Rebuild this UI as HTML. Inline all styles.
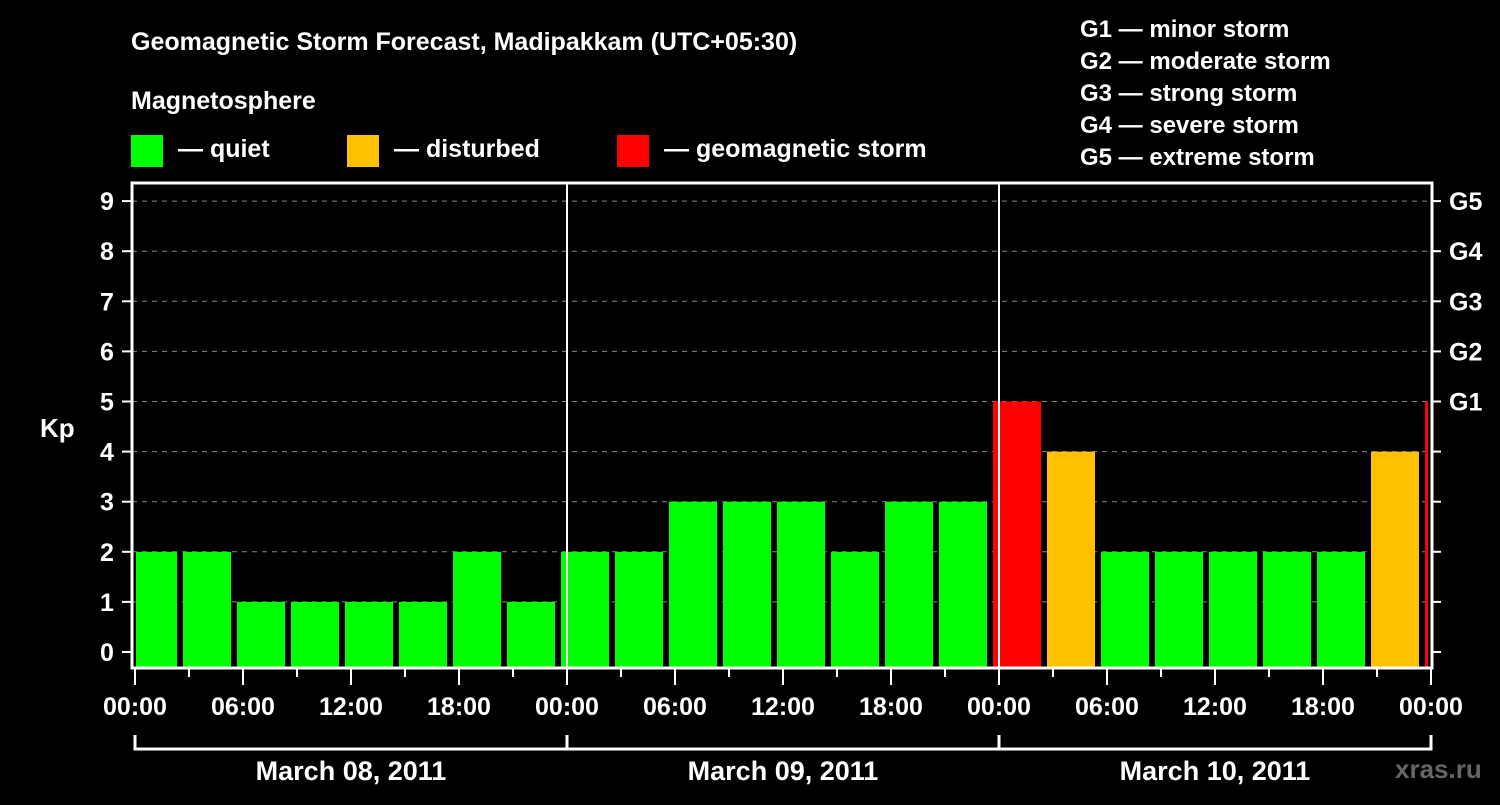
<!DOCTYPE html>
<html><head><meta charset="utf-8"><style>
body{margin:0;background:#000;}
svg text{font-family:"Liberation Sans",Arial,sans-serif;font-weight:bold;fill:#fff;}
</style></head><body>
<svg width="1500" height="800" xmlns="http://www.w3.org/2000/svg">
<rect width="1500" height="800" fill="#000"/>
<text x="131" y="50" font-size="25">Geomagnetic Storm Forecast, Madipakkam (UTC+05:30)</text>
<text x="131" y="109" font-size="25">Magnetosphere</text>
<g><rect x="131" y="135" width="32" height="32" fill="#00ff00"/><text x="178" y="157" font-size="25">— quiet</text></g>
<g><rect x="347" y="135" width="32" height="32" fill="#ffc000"/><text x="394" y="157" font-size="25">— disturbed</text></g>
<g><rect x="617" y="135" width="32" height="32" fill="#ff0000"/><text x="664" y="157" font-size="25">— geomagnetic storm</text></g>
<g font-size="24">
<text x="1080" y="37" font-size="24">G1 — minor storm</text>
<text x="1080" y="69" font-size="24">G2 — moderate storm</text>
<text x="1080" y="101" font-size="24">G3 — strong storm</text>
<text x="1080" y="133" font-size="24">G4 — severe storm</text>
<text x="1080" y="165" font-size="24">G5 — extreme storm</text>
</g>
<g id="grid"></g>
<g id="bars"></g>
<g id="axes"></g>
<text x="40" y="437" font-size="26">Kp</text>
<text x="1395" y="778" font-size="26" style="fill:#666">xras.ru</text>
</svg>
<script>
const kpValues=[2,2,1,1,1,1,2,1,2,2,3,3,3,2,3,3,5,4,2,2,2,2,2,4,5];
const yTicks=[0,1,2,3,4,5,6,7,8,9];
const gLabels=["G1","G2","G3","G4","G5"];
const dayLabels=["March 08, 2011","March 09, 2011","March 10, 2011"];
const timeLabels=["00:00","06:00","12:00","18:00"];
const NS="http://www.w3.org/2000/svg";
const X0=135,PXH=18,L=132,R=1432,T=183,B=668;
const yS=v=>652-v*50.1;
const xS=h=>X0+h*PXH;
function mk(tag,attrs,parent){const e=document.createElementNS(NS,tag);for(const k in attrs)e.setAttribute(k,attrs[k]);parent.appendChild(e);return e;}
const grid=document.getElementById('grid'),bars=document.getElementById('bars'),axes=document.getElementById('axes');
yTicks.forEach(v=>{if(v>0){const l=mk('line',{x1:L,x2:R,y1:yS(v),y2:yS(v),stroke:'#888','stroke-dasharray':'5,5','stroke-width':1},grid);

}
const t=mk('line',{x1:122,x2:L,y1:yS(v),y2:yS(v),stroke:'#fff','stroke-width':2},axes);


const tx=mk('text',{x:107,y:yS(v)+9,'font-size':25,'text-anchor':'middle'},axes);tx.textContent=v;


const rt=mk('line',{x1:R,x2:R+9,y1:yS(v),y2:yS(v),stroke:'#fff','stroke-width':2},axes);


if(v>=5){const g=mk('text',{x:1449,y:yS(v)+9,'font-size':25},axes);g.textContent=gLabels[v-5];

}
});
kpValues.forEach((v,i)=>{const s=-0.5+3*i;let x1=xS(s)+3,x2=xS(s+3)-3;x1=Math.max(x1,L+4);x2=Math.min(x2,R-4);
const col=v>=5?'#ff0000':(v>=4?'#ffc000':'#00ff00');
const r=mk('rect',{x:x1,y:yS(v),width:x2-x1,height:B-yS(v),fill:col},bars);

});
[1,2].forEach(d=>{const l=mk('line',{x1:xS(24*d),x2:xS(24*d),y1:T,y2:B,stroke:'#fff','stroke-width':2},axes);

});
const fr=mk('rect',{x:L,y:T,width:R-L,height:B-T,fill:'none',stroke:'#fff','stroke-width':3},axes);


for(let h=0;h<=72;h+=3){const big=h%6===0;const t=mk('line',{x1:xS(h),x2:xS(h),y1:B,y2:B+(big?17:9),stroke:'#fff','stroke-width':2},axes);


if(big){const tx=mk('text',{x:xS(h),y:715,'font-size':25,'text-anchor':'middle'},axes);tx.textContent=timeLabels[(h%24)/6];

}}
const br=mk('path',{d:`M${xS(0)},735V749H${xS(72)}V735M${xS(24)},735V749M${xS(48)},735V749`,stroke:'#fff','stroke-width':3,fill:'none'},axes);


dayLabels.forEach((d,i)=>{const t=mk('text',{x:xS(24*i+12),y:780,'font-size':27,'text-anchor':'middle'},axes);t.textContent=d;

});
</script>
</body></html>
